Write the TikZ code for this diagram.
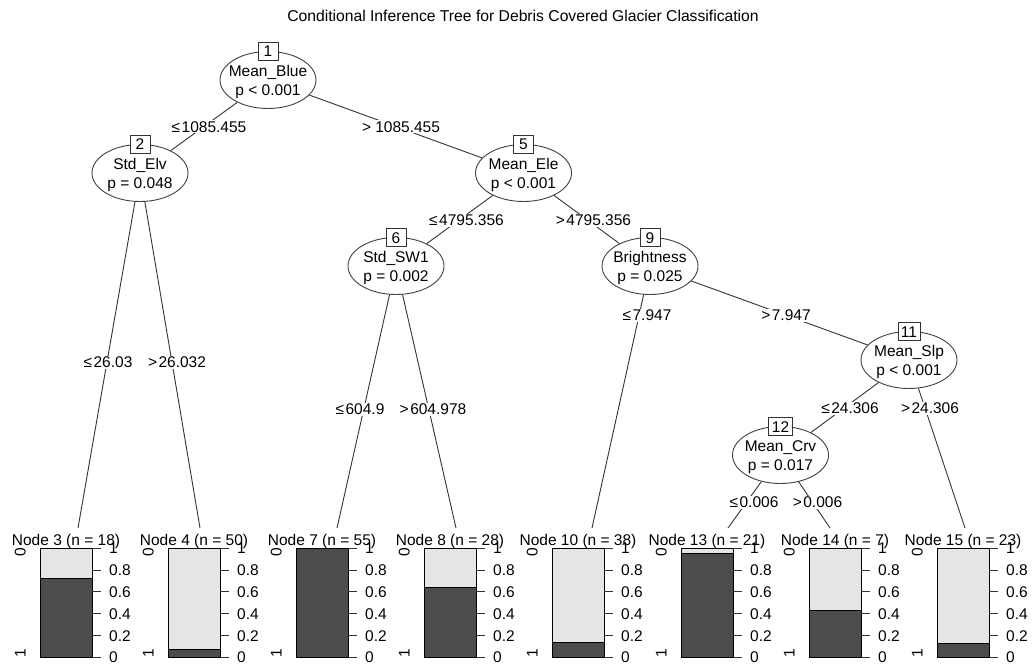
\documentclass[tikz,border=0pt]{standalone}
\usepackage{fontspec}
\setmainfont{Liberation Sans}
\usetikzlibrary{shapes.geometric,calc}
\begin{document}
\begin{tikzpicture}[x=1pt,y=-1pt,
  every node/.style={font=\fontsize{15.5}{18.6}\selectfont, text=black},
  inode/.style={ellipse, draw=black!75, line width=0.9pt, fill=white, minimum width=96pt, minimum height=57pt, inner sep=0pt},
  itext/.style={align=center, inner sep=0pt},
  numbox/.style={draw=black!80, line width=0.9pt, fill=white, inner xsep=3pt, inner ysep=0pt, minimum width=20pt, minimum height=18.5pt, text height=11pt, text depth=0pt},
  edge/.style={draw=black!80, line width=0.9pt},
  elab/.style={fill=white, inner sep=1pt, text height=11pt, text depth=0pt},
  ttitle/.style={inner sep=0pt, text height=11pt, text depth=0pt},
  ticklab/.style={anchor=west, inner sep=0pt, text height=11pt, text depth=0pt},
  sidelab/.style={rotate=90, inner sep=0pt, text height=11pt, text depth=0pt},
  bar/.style={draw=black, line width=0.9pt},
  tick/.style={draw=black!80, line width=0.9pt}
]
\useasboundingbox (0,0) rectangle (1034,666);
\fill[white] (0,0) rectangle (1034,666);

% title
\node[inner sep=0pt, font=\fontsize{15.7}{18}\selectfont] (title) at (523,16) {Conditional Inference Tree for Debris Covered Glacier Classification};

% inner nodes
\node[inode] (n1) at (268,80) {};
\node[inode] (n2) at (140,173) {};
\node[inode] (n5) at (523.5,173) {};
\node[inode] (n6) at (396,266) {};
\node[inode] (n9) at (650,266) {};
\node[inode] (n11) at (909,360) {};
\node[inode] (n12) at (780.5,455) {};

% terminal edge ends
\coordinate (t3) at (78,528);
\coordinate (t4) at (200,528);
\coordinate (t7) at (337,528);
\coordinate (t8) at (456,528);
\coordinate (t10) at (592,528);
\coordinate (t13) at (728,528);
\coordinate (t14) at (830,528);
\coordinate (t15) at (965,528);

% edges
\draw[edge] (n1) -- (n2);
\draw[edge] (n1) -- (n5);
\draw[edge] (n2) -- (t3);
\draw[edge] (n2) -- (t4);
\draw[edge] (n5) -- (n6);
\draw[edge] (n5) -- (n9);
\draw[edge] (n6) -- (t7);
\draw[edge] (n6) -- (t8);
\draw[edge] (n9) -- (t10);
\draw[edge] (n9) -- (n11);
\draw[edge] (n11) -- (n12);
\draw[edge] (n11) -- (t15);
\draw[edge] (n12) -- (t13);
\draw[edge] (n12) -- (t14);

% inner node texts
\node[itext] (x1) at ([yshift=-2pt]n1.center) {Mean\_Blue\\p < 0.001};
\node[itext] (x2) at ([yshift=-2pt]n2.center) {Std\_Elv\\p = 0.048};
\node[itext] (x5) at ([yshift=-2pt]n5.center) {Mean\_Ele\\p < 0.001};
\node[itext] (x6) at ([yshift=-2pt]n6.center) {Std\_SW1\\p = 0.002};
\node[itext] (x9) at ([yshift=-2pt]n9.center) {Brightness\\p = 0.025};
\node[itext] (x11) at ([yshift=-2pt]n11.center) {Mean\_Slp\\p < 0.001};
\node[itext] (x12) at ([yshift=-2pt]n12.center) {Mean\_Crv\\p = 0.017};

% number boxes
\node[numbox] (b1) at ([yshift=28.5pt]n1.center) {1};
\node[numbox] (b2) at ([yshift=28.5pt]n2.center) {2};
\node[numbox] (b5) at ([yshift=28.5pt]n5.center) {5};
\node[numbox] (b6) at ([yshift=28.5pt]n6.center) {6};
\node[numbox] (b9) at ([yshift=28.5pt]n9.center) {9};
\node[numbox] (b11) at ([yshift=28.5pt]n11.center) {11};
\node[numbox] (b12) at ([yshift=28.5pt]n12.center) {12};

% edge labels
\node[elab] (l2) at (209,127) {≤\kern1.5pt1085.455};
\node[elab] (l5) at (401,127) {> 1085.455};
\node[elab] (l3) at (108,362) {≤\kern1.5pt26.03};
\node[elab] (l4) at (177,362) {>\kern1.5pt26.032};
\node[elab] (l6) at (466.5,220) {≤\kern1.5pt4795.356};
\node[elab] (l9) at (593.5,220) {>\kern1.5pt4795.356};
\node[elab] (l7) at (360,409) {≤\kern1.5pt604.9};
\node[elab] (l8) at (433,409) {>\kern1.5pt604.978};
\node[elab] (l10) at (647,315) {≤\kern1.5pt7.947};
\node[elab] (l11) at (786,315) {>\kern1.5pt7.947};
\node[elab] (l12) at (850,408) {≤\kern1.5pt24.306};
\node[elab] (l15) at (930,408) {>\kern1.5pt24.306};
\node[elab] (l13) at (754,502) {≤\kern1.5pt0.006};
\node[elab] (l14) at (817.5,502) {>\kern1.5pt0.006};

% terminal panels
\foreach \k/\cx/\fr/\n in {3/66/0.72/18, 4/194/0.07/50, 7/322/1.0/55, 8/450/0.643/28, 10/578/0.132/38, 13/707/0.952/21, 14/835/0.429/7, 15/963/0.130/23}{
  \pgfmathsetmacro\l{\cx-26}
  \pgfmathsetmacro\r{\cx+26}
  \pgfmathsetmacro\yd{657.3-109*\fr}
  \fill[black!10] (\l,548.3) rectangle (\r,657.3);
  \fill[black!70] (\l,\yd) rectangle (\r,657.3);
  \draw[bar] (\l,548.3) rectangle (\r,657.3);
  \draw[bar] (\l,\yd) -- (\r,\yd);
  \foreach \v/\t in {0/0, 0.2/0.2, 0.4/0.4, 0.6/0.6, 0.8/0.8, 1/1}{
    \draw[tick] (\r,{657.3-109*\v}) -- ++(9,0);
    \node[ticklab] at ({\r+17},{657.3-109*\v}) {\t};
  }
  \node[sidelab] at ({\l-20},551.7) {0};
  \node[sidelab] at ({\l-20},653) {1};
  \node[ttitle] (term\k) at (\cx,540) {Node \k{} (n = \n)};
}
\end{tikzpicture}
\end{document}
